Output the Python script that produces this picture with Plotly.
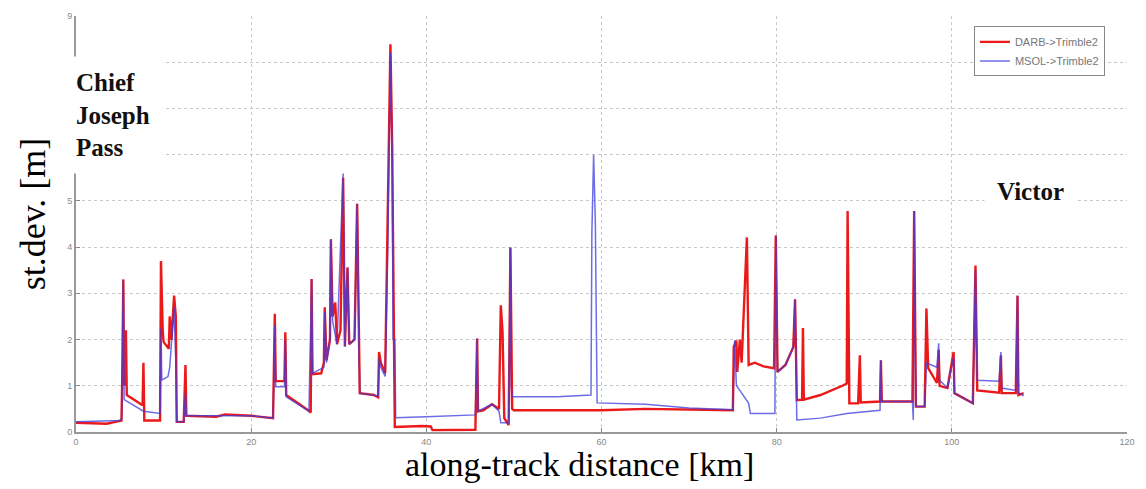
import plotly.graph_objects as go

# DARB->Trimble2 (red)
darb_km = [0, 2, 3.5, 4.5, 5.2, 5.3, 5.4, 5.5, 5.7, 5.8, 7.6, 7.7, 7.8, 9.6, 9.7, 9.9, 10.0, 10.6, 10.7, 10.9,
           11.2, 11.4, 11.5, 12.3, 12.5, 12.6, 16, 17, 19, 20, 22.5, 22.7, 22.8, 23.8, 23.9, 24.0, 26.5, 26.8,
           26.9, 27.0, 28.0, 28.3, 28.4, 28.6, 29.0, 29.1, 29.3, 29.6, 29.8, 30.2, 30.4, 30.5, 30.7, 31.0, 31.2,
           31.8, 32.1, 32.3, 32.4, 34.0, 34.5, 34.6, 34.8, 35.3, 35.6, 35.9, 36.1, 36.3, 36.4, 39.5, 40.5, 40.7,
           45.6, 45.8, 45.9, 46.5, 47.5, 48.3, 48.5, 48.7, 48.9, 49.4, 49.6, 49.8, 50, 55, 60, 65, 70, 75.0,
           75.1, 75.4, 75.5, 75.8, 76.0, 76.4, 76.6, 76.8, 77.5, 78.5, 79.7, 79.9, 80.1, 81, 81.9, 82.1, 82.3,
           82.9, 83.0, 83.1, 85, 87.5, 88.0, 88.1, 88.3, 89.3, 89.5, 89.6, 91.8, 91.9, 92.0, 95.5, 95.7, 95.9,
           96.9, 97.1, 97.3, 98.3, 98.5, 98.6, 99.5, 100.2, 100.3, 102.4, 102.7, 102.9, 105.4, 105.6, 105.7,
           107.3, 107.5, 107.6, 108.2]
darb_sd = [0.2, 0.19, 0.18, 0.22, 0.25, 1.4, 3.3, 1.0, 2.2, 0.8, 0.58, 1.5, 0.25, 0.25, 3.7, 2.2, 1.95, 1.8, 2.5, 2.0,
           2.95, 2.5, 0.22, 0.22, 1.45, 0.35, 0.33, 0.38, 0.37, 0.35, 0.3, 2.56, 1.1, 1.1, 2.16, 0.8, 0.47, 0.42,
           3.31, 1.25, 1.27, 1.5, 2.7, 1.55, 2.0, 4.17, 2.5, 2.8, 1.9, 2.2, 4.5, 5.5, 1.85, 3.56, 1.9,
           2.0, 4.94, 2.0, 0.84, 0.8, 0.75, 1.73, 1.5, 1.27, 4.5, 8.39, 6.2, 2.0, 0.11, 0.13, 0.12, 0.04,
           0.05, 2.02, 0.45, 0.47, 0.6, 0.5, 2.74, 2.17, 0.3, 0.15, 3.99, 0.5, 0.47, 0.47, 0.47, 0.5, 0.48, 0.47,
           1.84, 1.98, 1.3, 2.0, 1.5, 3.2, 4.21, 1.45, 1.5, 1.42, 1.38, 4.25, 1.3, 1.45, 1.84, 2.87, 0.69,
           0.7, 2.25, 0.7, 0.8, 1.0, 1.05, 4.78, 0.62, 0.62, 1.66, 0.64, 0.66, 1.55, 0.66, 0.66, 4.78, 0.55,
           0.55, 2.67, 1.38, 1.06, 1.78, 1.0, 0.95, 1.73, 0.84, 0.62, 3.6, 0.9, 0.85, 1.66, 0.84,
           0.84, 2.95, 0.8, 0.84]

# MSOL->Trimble2 (blue)
msol_km = [0, 5.0, 5.2, 5.3, 5.4, 5.5, 7.7, 9.6, 9.7, 9.8, 10.5, 10.7, 11.2, 11.4, 11.5, 12.3, 12.5, 12.6, 20,
           22.5, 22.7, 22.8, 23.8, 23.9, 24.0, 26.6, 26.9, 27.0, 28.3, 28.4, 28.6, 29.0, 29.1, 29.3, 29.8, 30.5,
           30.7, 31.0, 31.2, 31.8, 32.1, 32.3, 32.4, 34.5, 34.6, 34.8, 35.3, 35.6, 35.9, 36.1, 36.2, 36.4, 36.5,
           40, 45.6, 45.8, 45.9, 47.5, 48.3, 48.5, 49.4, 49.6, 49.7, 49.8, 55, 58.8, 58.9, 59.1, 59.3, 59.5,
           65, 70, 75.0, 75.2, 75.4, 75.8, 76.8, 77.0, 79.8, 79.9, 80.1, 81, 81.9, 82.1, 82.3, 85, 88, 91.8,
           91.9, 92.0, 95.5, 95.6, 95.7, 95.9, 96.9, 97.1, 97.3, 98.3, 98.5, 98.6, 99.5, 100.2, 100.3, 102.4,
           102.7, 102.9, 105.4, 105.6, 105.7, 107.3, 107.5, 107.6, 108.2]
msol_sd = [0.22, 0.25, 0.3, 1.4, 3.3, 0.7, 0.45, 0.4, 2.24, 1.12, 1.2, 1.4, 2.7, 1.5, 0.22, 0.22, 0.85, 0.35, 0.35,
           0.3, 2.3, 0.98, 0.98, 2.0, 0.76, 0.45, 3.31, 1.27, 1.4, 2.6, 1.5, 2.0, 4.17, 2.4, 1.9, 5.59,
           1.85, 3.56, 1.9, 2.0, 4.94, 1.95, 0.84, 0.78, 1.6, 1.4, 1.2, 4.0, 8.2, 6.0, 2.0, 2.0, 0.31,
           0.33, 0.37, 2.02, 0.45, 0.6, 0.45, 0.2, 0.2, 3.99, 1.0, 0.76, 0.76, 0.8, 4.3, 6.0, 4.5, 0.63,
           0.6, 0.52, 0.48, 1.98, 1.0, 0.9, 0.62, 0.4, 0.4, 4.25, 1.3, 1.45, 1.84, 2.87, 0.26, 0.3, 0.4, 0.47,
           1.55, 0.66, 0.66, 0.26, 4.78, 0.55, 0.55, 1.5, 1.48, 1.4, 1.92, 1.12, 0.95, 1.62, 0.84, 0.62,
           3.5, 1.12, 1.1, 1.73, 0.95, 0.9, 2.95, 0.85, 0.78]

x_ticks = [0, 20, 40, 60, 80, 100, 120]
y_ticks = [0, 1, 2, 3, 4, 5, 6, 7, 8, 9]

serif = "Liberation Serif, Times New Roman, serif"

fig = go.Figure()
fig.add_trace(go.Scatter(x=darb_km, y=darb_sd, mode="lines", name="DARB->Trimble2",
                         line=dict(color="rgb(235,25,25)", width=2.4)))
fig.add_trace(go.Scatter(x=msol_km, y=msol_sd, mode="lines", name="MSOL->Trimble2",
                         line=dict(color="rgb(60,60,225)", width=1.5), opacity=0.75))

fig.update_layout(
    width=1146, height=489,
    margin=dict(l=76, r=11, t=14, b=57),
    paper_bgcolor="white", plot_bgcolor="white",
    showlegend=True,
    legend=dict(x=0.979, y=0.975, xanchor="right", yanchor="top",
                bgcolor="white", bordercolor="#888", borderwidth=1,
                font=dict(family="Arial, Liberation Sans, sans-serif", size=11, color="#777"),
                tracegroupgap=0),
    xaxis=dict(range=[0, 120], tickvals=x_ticks, ticks="inside", ticklen=4, tickcolor="#888",
               showline=True, linecolor="#999", linewidth=2, mirror=False,
               showgrid=True, gridcolor="#c8c8c8", griddash="dot", gridwidth=1,
               zeroline=False, tickfont=dict(family="Arial, sans-serif", size=9, color="#888")),
    yaxis=dict(range=[0, 9], tickvals=y_ticks, ticks="inside", ticklen=4, tickcolor="#888",
               showline=True, linecolor="#999", linewidth=2,
               showgrid=True, gridcolor="#c8c8c8", griddash="dot", gridwidth=1,
               zeroline=False, tickfont=dict(family="Arial, sans-serif", size=9, color="#888")),
)

# axis titles
fig.add_annotation(xref="paper", yref="paper", x=0.479, y=-0.078, xanchor="center", yanchor="middle",
                   text="along-track distance [km]", showarrow=False,
                   font=dict(family=serif, size=34, color="black"))
fig.add_annotation(xref="paper", yref="paper", x=-0.0406, y=0.524, xanchor="center", yanchor="middle",
                   text="st.dev. [m]", showarrow=False, textangle=-90,
                   font=dict(family=serif, size=36, color="black"))

fig.add_annotation(xref="paper", yref="paper", x=-0.0123, y=0.904, xanchor="left", yanchor="top",
                   text="<b>Chief<br>Joseph<br>Pass</b>", showarrow=False, align="left",
                   font=dict(family=serif, size=25, color="#111"),
                   bgcolor="white", borderpad=12)
fig.add_annotation(x=109.0, y=5.2, text="<b>Victor</b>", showarrow=False,
                   font=dict(family=serif, size=25, color="#111"),
                   bgcolor="white", borderpad=12)

fig.write_html("out.html")
